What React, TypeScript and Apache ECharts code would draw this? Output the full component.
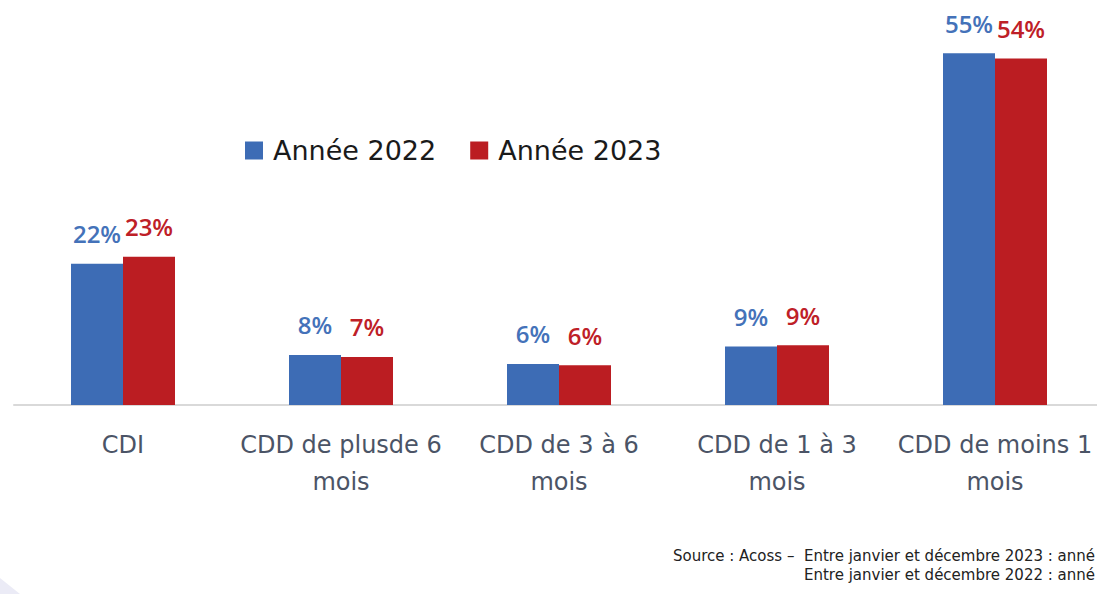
import React, { useEffect, useRef } from "react";
import * as echarts from "echarts";

const categories = [
  "CDI",
  "CDD de plusde 6\nmois",
  "CDD de 3 à 6\nmois",
  "CDD de 1 à 3\nmois",
  "CDD de moins 1\nmois",
];
const values2022 = [22.0, 7.8, 6.4, 9.1, 54.8];
const values2023 = [23.1, 7.5, 6.2, 9.3, 54.0];
const labels2022 = ["22%", "8%", "6%", "9%", "55%"];
const labels2023 = ["23%", "7%", "6%", "9%", "54%"];
const seriesNames = ["Année 2022", "Année 2023"];
const sourceLines = [
  "Source : Acoss –  Entre janvier et décembre 2023 : anné",
  "Entre janvier et décembre 2022 : anné",
];

const BLUE = "#3D6CB5";
const RED = "#BB1D22";
const FONT = "'Open Sans', 'Noto Sans', sans-serif";
const WIDE = "'DejaVu Sans', 'Open Sans', sans-serif";
const EXTRA = 16; // chart canvas extends past the visible page on the right

export default function App() {
  const ref = useRef<HTMLDivElement>(null);
  useEffect(() => {
    if (!ref.current) return;
    const chart = echarts.init(ref.current, undefined, { renderer: "svg" });
    chart.setOption({
      animation: false,
      backgroundColor: "#ffffff",
      textStyle: { fontFamily: FONT },
      legend: {
        left: 240,
        top: 132,
        itemWidth: 18,
        itemHeight: 18,
        itemGap: 34,
        icon: "rect",
        textStyle: { fontSize: 27, color: "#1a1a1a", fontFamily: WIDE, padding: [0, 0, 0, 5] },
        data: seriesNames,
      },
      grid: { left: 14, width: 1090, top: 20, bottom: 189, containLabel: false },
      xAxis: {
        type: "category",
        data: categories,
        axisLine: { lineStyle: { color: "#d9d9d9", width: 2 } },
        axisTick: { show: false },
        axisLabel: {
          interval: 0,
          fontSize: 24,
          lineHeight: 37,
          color: "#4b5466",
          margin: 21,
          fontFamily: WIDE,
        },
      },
      yAxis: {
        type: "value",
        min: 0,
        max: 60,
        show: false,
        splitLine: { show: false },
      },
      series: [
        {
          name: seriesNames[0],
          type: "bar",
          data: values2022,
          barWidth: 52,
          barGap: "0%",
          itemStyle: { color: BLUE },
          label: {
            show: true,
            position: "top",
            distance: 18,
            fontSize: 24,
            fontWeight: 600,
            color: "#4472B9",
            fontFamily: FONT,
            formatter: (p: any) => labels2022[p.dataIndex],
          },
        },
        {
          name: seriesNames[1],
          type: "bar",
          data: values2023,
          barWidth: 52,
          barGap: "0%",
          itemStyle: { color: RED },
          label: {
            show: true,
            position: "top",
            distance: 18,
            fontSize: 24,
            fontWeight: 600,
            color: "#BE2027",
            fontFamily: FONT,
            formatter: (p: any) => labels2023[p.dataIndex],
          },
        },
      ],
      graphic: [
        {
          type: "polygon",
          shape: { points: [[0, 578], [20, 594], [0, 594]] },
          style: { fill: "#ebebf6" },
          silent: true,
        },
        {
          type: "text",
          right: 2 + EXTRA,
          top: 548,
          style: {
            text: sourceLines[0],
            align: "right",
            fontSize: 15,
            fill: "#222222",
            fontFamily: WIDE,
          },
        },
        {
          type: "text",
          right: 2 + EXTRA,
          top: 567,
          style: {
            text: sourceLines[1],
            align: "right",
            fontSize: 15,
            fill: "#222222",
            fontFamily: WIDE,
          },
        },
      ],
    });
    return () => chart.dispose();
  }, []);
  return (
    <div
      style={{
        position: "fixed",
        left: 0,
        top: 0,
        width: 1097,
        height: 594,
        overflow: "hidden",
        background: "#fff",
      }}
    >
      <div ref={ref} style={{ width: 1097 + EXTRA, height: 594 }} />
    </div>
  );
}
